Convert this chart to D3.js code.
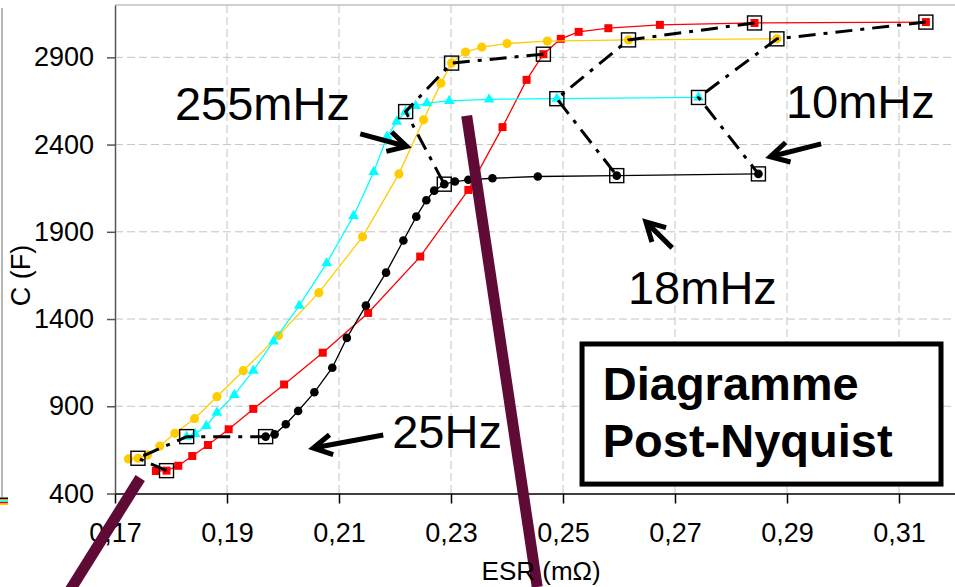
<!DOCTYPE html>
<html>
<head>
<meta charset="utf-8">
<script src="https://cdn.jsdelivr.net/npm/d3@7"></script>
<style>
	body { margin: 0; background: #fff; }
	svg { display: block; font-family: 'Liberation Sans', Arial, sans-serif; }
</style>
</head>
<body>
<div id="chart"></div>
<script>
// axis ticks
const xTicks = [0.17, 0.19, 0.21, 0.23, 0.25, 0.27, 0.29, 0.31];
const yTicks = [400, 900, 1400, 1900, 2400, 2900];

const esrRed = [0.1773, 0.1792, 0.1813, 0.1838, 0.1866, 0.1903, 0.1947, 0.2002, 0.2071, 0.2152, 0.2245,
	0.2331, 0.2392, 0.2435, 0.2465, 0.2496, 0.2528, 0.2581, 0.2673, 0.2842, 0.3148];
const capRed = [529, 531, 559, 615, 678, 768, 885, 1025, 1207, 1435, 1758,
	2140, 2500, 2771, 2918, 3006, 3046, 3067, 3086, 3097, 3102];

const esrYellow = [0.1724, 0.1741, 0.1758, 0.1780, 0.1807, 0.1842, 0.1882, 0.1929, 0.1992, 0.2064, 0.2142,
	0.2207, 0.2251, 0.2282, 0.2301, 0.2326, 0.2355, 0.2400, 0.2472, 0.2617, 0.2882];
const capYellow = [598, 602, 621, 672, 745, 829, 955, 1104, 1305, 1551, 1871,
	2232, 2542, 2752, 2867, 2930, 2959, 2979, 2993, 3000, 3006];

const esrCyan = [0.1828, 0.1843, 0.1863, 0.1882, 0.1913, 0.1947, 0.1983, 0.2029, 0.2078, 0.2126,
	0.2162, 0.2186, 0.2203, 0.2219, 0.2237, 0.2257, 0.2297, 0.2368, 0.2489, 0.2742];
const capCyan = [726, 741, 787, 863, 965, 1104, 1272, 1477, 1720, 1991,
	2243, 2446, 2532, 2589, 2622, 2637, 2650, 2659, 2663, 2670];

const esrBlack = [0.1969, 0.1985, 0.2005, 0.2027, 0.2056, 0.2088, 0.2114, 0.2148, 0.2184, 0.2215,
	0.2238, 0.2256, 0.2270, 0.2288, 0.2307, 0.2331, 0.2374, 0.2455, 0.2596, 0.2849];
const capBlack = [726, 739, 797, 873, 980, 1121, 1292, 1477, 1666, 1850,
	1987, 2081, 2136, 2173, 2188, 2198, 2207, 2217, 2222, 2232];

// iso-frequency points (index in each series) : 25Hz, 255mHz, 18mHz, 10mHz
const isoFreqs = ['25Hz', '255mHz', '18mHz', '10mHz'];
const isoRed = [1, 14, 19, 20];
const isoYellow = [1, 14, 19, 20];
const isoCyan = [0, 13, 18, 19];
const isoBlack = [0, 13, 18, 19];

// annotations, in data units
const noteLabels = ['255mHz', '10mHz', '18mHz', '25Hz'];
const noteEsr = [0.1807, 0.2898, 0.2616, 0.2195];
const noteCap = [2542, 2553, 1487, 661];
const arrows = [
	[0.2138, 2461, 0.2221, 2389],
	[0.2961, 2404, 0.2870, 2330],
	[0.2695, 1808, 0.2648, 1957],
	[0.2179, 735, 0.2054, 661]
];
const strokes = [
	[0.2328, 2565, 0.2454, -136],
	[0.1745, 489, 0.1620, -153]
];
const titleLines = ['Diagramme', 'Post-Nyquist'];

const W = 955, H = 587;
const margin = {top: 5, left: 115};
const width = 840, height = 488.5;

const x = d3.scaleLinear().domain([0.17, 0.32]).range([0, width]);
const y = d3.scaleLinear().domain([400, 3200]).range([height, 0]);

const svg = d3.select('#chart').append('svg')
	.attr('width', W)
	.attr('height', H);

// stray edge of the neighbouring chart on the far left
svg.append('line')
	.attr('x1', 2).attr('x2', 2).attr('y1', 8).attr('y2', 497)
	.style('stroke', '#a0a0a0').style('stroke-width', 1.5);
['#000000', '#ff9900', '#00ffff', '#ff0000', '#ffcc00'].forEach((c, i) => {
	svg.append('rect')
		.attr('x', 0).attr('y', 497.5 + i * 1.5)
		.attr('width', 8).attr('height', 1.5)
		.style('fill', c);
});

const g = svg.append('g')
	.attr('transform', `translate(${margin.left}, ${margin.top})`);

// grid
g.append('g').selectAll('line')
	.data(xTicks.slice(1))
	.enter().append('line')
	.attr('x1', d => x(d)).attr('x2', d => x(d))
	.attr('y1', 0).attr('y2', height)
	.style('stroke', '#c4c4c4').style('stroke-width', 1).style('stroke-dasharray', '8,4');
g.append('g').selectAll('line')
	.data(yTicks.slice(1))
	.enter().append('line')
	.attr('x1', 0).attr('x2', width)
	.attr('y1', d => y(d)).attr('y2', d => y(d))
	.style('stroke', '#c4c4c4').style('stroke-width', 1).style('stroke-dasharray', '8,4');
g.append('line')
	.attr('x1', 0).attr('x2', width)
	.attr('y1', y(3200)).attr('y2', y(3200))
	.style('stroke', '#c0c0c0').style('stroke-width', 1.5);

// axes
const fmt = d => d3.format('.2f')(d).replace('.', ',');
g.append('g')
	.attr('class', 'axis x--axis')
	.attr('transform', `translate(0, ${height})`)
	.call(d3.axisBottom(x).tickValues(xTicks).tickFormat(fmt).tickSize(10).tickSizeOuter(0).tickPadding(19));
g.append('g')
	.attr('class', 'axis y--axis')
	.call(d3.axisLeft(y).tickValues(yTicks).tickFormat(d3.format('d')).tickSize(8).tickSizeOuter(0).tickPadding(13));

g.selectAll('.axis text')
	.style('font-size', '27px')
	.style('font-family', "'Liberation Sans', Arial, sans-serif")
	.style('fill', '#000');
g.select('.x--axis').selectAll('path, line').style('stroke', '#000').style('stroke-width', 1.5);
g.select('.y--axis').selectAll('path, line').style('stroke', '#555').style('stroke-width', 1.5);

svg.append('text')
	.attr('transform', `translate(30, ${margin.top + y(1650)}) rotate(-90)`)
	.style('text-anchor', 'middle')
	.style('font-size', '27px')
	.text('C (F)');
svg.append('text')
	.attr('x', margin.left + x(0.2461))
	.attr('y', 580)
	.style('text-anchor', 'middle')
	.style('font-size', '26px')
	.text('ESR (mΩ)');

// series
const series = [
	{esr: esrRed, cap: capRed, iso: isoRed, color: '#ff0000', shape: 'square'},
	{esr: esrYellow, cap: capYellow, iso: isoYellow, color: '#ffcc00', shape: 'circle'},
	{esr: esrCyan, cap: capCyan, iso: isoCyan, color: '#00ffff', shape: 'triangle'},
	{esr: esrBlack, cap: capBlack, iso: isoBlack, color: '#000000', shape: 'circle'}
];
const line = d3.line().x(d => x(d[0])).y(d => y(d[1]));

series.forEach(s => {
	let pts = s.esr.map((v, i) => [v, s.cap[i]]);
	g.append('path')
		.datum(pts)
		.attr('d', line)
		.style('fill', 'none')
		.style('stroke', s.color)
		.style('stroke-width', 1.3);
	let marks = g.append('g').selectAll('.m').data(pts).enter();
	if (s.shape === 'square') {
		marks.append('rect')
			.attr('x', d => x(d[0]) - 4).attr('y', d => y(d[1]) - 4)
			.attr('width', 8).attr('height', 8)
			.style('fill', s.color);
	} else if (s.shape === 'triangle') {
		marks.append('path')
			.attr('d', d3.symbol(d3.symbolTriangle, 50))
			.attr('transform', d => `translate(${x(d[0])}, ${y(d[1])})`)
			.style('fill', s.color);
	} else {
		marks.append('circle')
			.attr('cx', d => x(d[0])).attr('cy', d => y(d[1]))
			.attr('r', s.color === '#000000' ? 4.3 : 4.6)
			.style('fill', s.color);
	}
});

// iso-frequency dash-dot lines and boxes
isoFreqs.forEach((f, k) => {
	let pts = series.map(s => [s.esr[s.iso[k]], s.cap[s.iso[k]]]);
	g.append('path')
		.datum(pts)
		.attr('d', line)
		.style('fill', 'none')
		.style('stroke', '#000')
		.style('stroke-width', 3)
		.style('stroke-dasharray', '17,8,4,8');
	g.append('g').selectAll('rect')
		.data(pts)
		.enter().append('rect')
		.attr('x', d => x(d[0]) - 7).attr('y', d => y(d[1]) - 7)
		.attr('width', 14).attr('height', 14)
		.style('fill', 'none')
		.style('stroke', '#000')
		.style('stroke-width', 1.4);
});

// frequency labels
g.append('g').selectAll('text')
	.data(noteLabels)
	.enter().append('text')
	.attr('x', (d, i) => x(noteEsr[i]))
	.attr('y', (d, i) => y(noteCap[i]))
	.style('font-size', '47px')
	.text(d => d);

// arrows
arrows.forEach(a => {
	let x1 = x(a[0]), y1 = y(a[1]), x2 = x(a[2]), y2 = y(a[3]);
	let ang = Math.atan2(y2 - y1, x2 - x1), len = 21, spread = 0.5;
	let p1 = [x2 - len * Math.cos(ang - spread), y2 - len * Math.sin(ang - spread)];
	let p2 = [x2 - len * Math.cos(ang + spread), y2 - len * Math.sin(ang + spread)];
	g.append('path')
		.attr('d', `M${x1},${y1}L${x2},${y2}M${p1[0]},${p1[1]}L${x2},${y2}L${p2[0]},${p2[1]}`)
		.style('fill', 'none')
		.style('stroke', '#000')
		.style('stroke-width', 5)
		.style('stroke-linejoin', 'miter');
});

// title box
g.append('rect')
	.attr('x', x(0.2534)).attr('y', y(1257))
	.attr('width', x(0.3175) - x(0.2534))
	.attr('height', y(454) - y(1257))
	.style('fill', '#fff')
	.style('stroke', '#000')
	.style('stroke-width', 5);
g.append('g').selectAll('text')
	.data(titleLines)
	.enter().append('text')
	.attr('x', x(0.2571))
	.attr('y', (d, i) => y(i ? 611 : 936))
	.style('font-size', '47px')
	.style('font-weight', 'bold')
	.text(d => d);

// thick maroon strokes on top
strokes.forEach(s => {
	g.append('line')
		.attr('x1', x(s[0])).attr('y1', y(s[1]))
		.attr('x2', x(s[2])).attr('y2', y(s[3]))
		.style('stroke', '#600a36')
		.style('stroke-width', 11);
});
</script>
</body>
</html>
